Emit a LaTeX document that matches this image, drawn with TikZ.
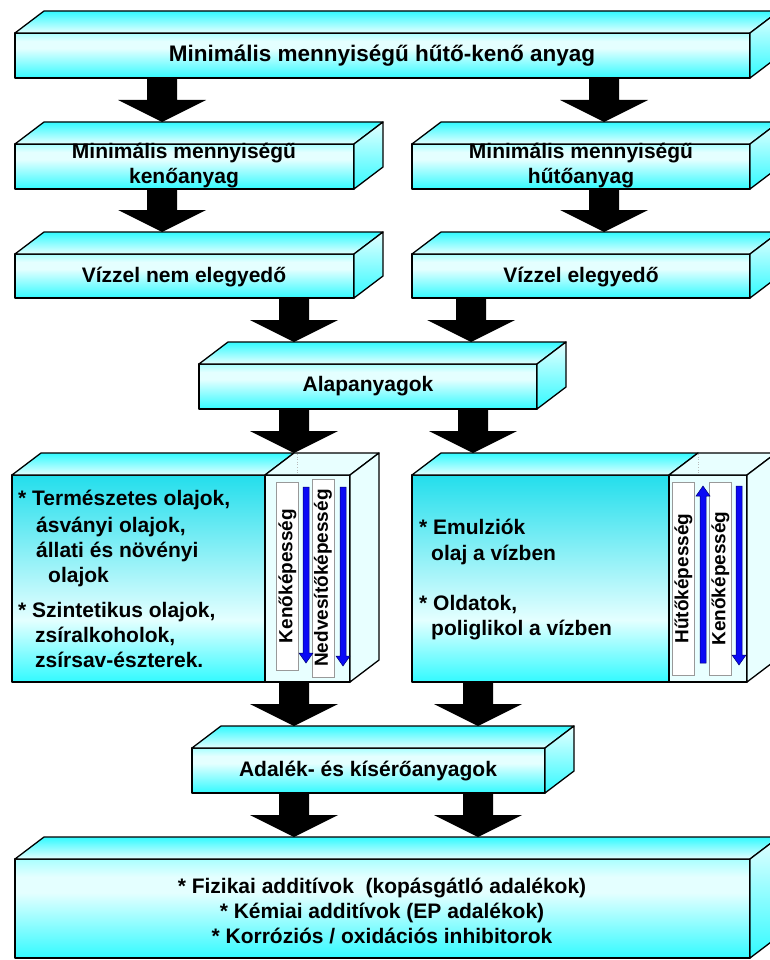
\documentclass[tikz,border=0pt]{standalone}
\usepackage{fontspec}
\setmainfont{Liberation Sans}
\definecolor{cyS}{RGB}{50,250,255}
\definecolor{cyL}{RGB}{228,255,255}
\definecolor{cyT}{RGB}{170,255,255}
\definecolor{cyD}{RGB}{35,222,236}
\definecolor{pale}{RGB}{232,255,255}
\definecolor{bluef}{RGB}{10,10,245}
\pgfdeclareverticalshading{smallfront}{100bp}{color(0bp)=(cyS); color(25bp)=(cyS); color(58bp)=(cyL); color(66bp)=(cyL); color(75bp)=(cyT); color(100bp)=(cyT)}
\pgfdeclareverticalshading{bigfront}{100bp}{color(0bp)=(cyS); color(25bp)=(cyS); color(40bp)=(cyL); color(75bp)=(cyD); color(100bp)=(cyD)}
\pgfdeclareverticalshading{topface}{100bp}{color(0bp)=(cyL); color(25bp)=(cyL); color(75bp)=(cyS); color(100bp)=(cyS)}
\pgfdeclareverticalshading{sideface}{100bp}{color(0bp)=(cyS); color(25bp)=(cyS); color(75bp)=(cyL); color(100bp)=(cyL)}
\tikzset{
  outl/.style={draw=black, line width=1.3pt, line join=round},
  frontsm/.style={rectangle, inner sep=0pt, outer sep=0pt, outl, shade, shading=smallfront},
  frontbig/.style={rectangle, inner sep=0pt, outer sep=0pt, outl, shade, shading=bigfront},
  scalezone/.style={rectangle, inner sep=0pt, outer sep=0pt, outl, fill=pale},
  topsh/.style={outl, shade, shading=topface},
  sidesh/.style={outl, shade, shading=sideface},
  palesh/.style={outl, fill=pale},
  lbl/.style={inner sep=0pt, font=\bfseries\fontsize{21}{25}\selectfont, align=center},
  body/.style={inner sep=0pt, anchor=base west, font=\bfseries\fontsize{21}{25}\selectfont},
  bar/.style={rectangle, draw=gray!80, line width=0.6pt, fill=white, inner sep=0pt, rotate=90, minimum height=22pt, font=\bfseries\fontsize{19}{22}\selectfont},
  fat/.style={fill=black},
  bluearr/.style={fill=bluef, draw=blue!45!black, line width=0.5pt},
  faint/.style={draw=gray!55, dotted, line width=0.6pt}
}
\newcommand\topface[2]{%
  \path[#2] (#1.north west) -- ++(29,-22) -- ([shift={(29,-22)}]#1.north east) -- (#1.north east) -- cycle;}
\newcommand\sideface[2]{%
  \path[#2] (#1.north east) -- ++(29,-22) -- ([shift={(29,-22)}]#1.south east) -- (#1.south east) -- cycle;}
\newcommand\fatarrow[3]{%
  \path (#1,0) coordinate (fax);
  \path (fax |- #2.south) coordinate (faS) (fax |- #3.north) coordinate (faT);
  \fill[fat] ([shift={(-15,0)}]faS) -- ([shift={(15,0)}]faS) -- ([shift={(15,-44)}]faT) -- ([shift={(44,-44)}]faT) -- ([shift={(0,-22)}]faT) -- ([shift={(-44,-44)}]faT) -- ([shift={(-15,-44)}]faT) -- cycle;}
\newcommand\bluearrow[3]{%
  \filldraw[bluearr] ([shift={(-3,0)}]#1) -- ([shift={(3,0)}]#1) -- ([shift={(3,{-10*(#3)})}]#2) -- ([shift={(7,{-10*(#3)})}]#2) -- (#2) -- ([shift={(-7,{-10*(#3)})}]#2) -- ([shift={(-3,{-10*(#3)})}]#2) -- cycle;}
\begin{document}
\begin{tikzpicture}[x=1pt, y=-1pt]
\useasboundingbox (0,0) rectangle (770,960);
\clip (0,0) rectangle (770,960);

% box 1
\node[frontsm, minimum width=735pt, minimum height=45pt] (b1) at (382.5,55.5) {};
\topface{b1}{topsh}\sideface{b1}{sidesh}
% box 2
\node[frontsm, minimum width=339pt, minimum height=45pt] (b2l) at (184.5,166.5) {};
\topface{b2l}{topsh}\sideface{b2l}{sidesh}
\node[frontsm, minimum width=338pt, minimum height=45pt] (b2r) at (581,166.5) {};
\topface{b2r}{topsh}\sideface{b2r}{sidesh}
% box 3
\node[frontsm, minimum width=339pt, minimum height=44pt] (b3l) at (184.5,276) {};
\topface{b3l}{topsh}\sideface{b3l}{sidesh}
\node[frontsm, minimum width=338pt, minimum height=44pt] (b3r) at (581,276) {};
\topface{b3r}{topsh}\sideface{b3r}{sidesh}
% box 4
\node[frontsm, minimum width=338pt, minimum height=45pt] (b4) at (368,386.5) {};
\topface{b4}{topsh}\sideface{b4}{sidesh}
% big left
\node[frontbig, minimum width=253pt, minimum height=207pt] (b5l) at (138.5,578.5) {};
\node[scalezone, minimum width=85pt, minimum height=207pt] (s5l) at (307.5,578.5) {};
\topface{b5l}{topsh}\topface{s5l}{palesh}\sideface{s5l}{palesh}
\draw[faint] (297,454) -- (297,474);
% big right
\node[frontbig, minimum width=257pt, minimum height=207pt] (b5r) at (540.5,578.5) {};
\node[scalezone, minimum width=78pt, minimum height=207pt] (s5r) at (708,578.5) {};
\topface{b5r}{topsh}\topface{s5r}{palesh}\sideface{s5r}{palesh}
\draw[faint] (698,454) -- (698,474);
% box 6
\node[frontsm, minimum width=353pt, minimum height=45pt] (b6) at (368.5,770.5) {};
\topface{b6}{topsh}\sideface{b6}{sidesh}
% box 7
\node[frontsm, minimum width=735pt, minimum height=99pt] (b7) at (382.5,908.5) {};
\topface{b7}{topsh}\sideface{b7}{sidesh}

% labels
\node[lbl, font=\bfseries\fontsize{22.5}{27}\selectfont] (t1) at (382,56) {Minimális mennyiségű hűtő-kenő anyag};
\node[lbl] (t2l) at (184,166) {Minimális mennyiségű\\kenőanyag};
\node[lbl] (t2r) at (581,166) {Minimális mennyiségű\\hűtőanyag};
\node[lbl] (t3l) at (184,277) {Vízzel nem elegyedő};
\node[lbl] (t3r) at (581,277) {Vízzel elegyedő};
\node[lbl] (t4) at (368,386) {Alapanyagok};
\node[lbl] (t6) at (368,771) {Adalék- és kísérőanyagok};
\node[lbl] (t7) at (382,911) {* Fizikai additívok\ \ (kopásgátló adalékok)\\* Kémiai additívok (EP adalékok)\\* Korróziós / oxidációs inhibitorok};

\node[body] (l1) at (18,505) {* Természetes olajok,};
\node[body] (l2) at (36,532) {ásványi olajok,};
\node[body] (l3) at (36,557) {állati és növényi};
\node[body] (l4) at (48,582) {olajok};
\node[body] (l5) at (18,617) {* Szintetikus olajok,};
\node[body] (l6) at (35,642) {zsíralkoholok,};
\node[body] (l7) at (35,667) {zsírsav-észterek.};
\node[body] (r1) at (419,534) {* Emulziók};
\node[body] (r2) at (431,560) {olaj a vízben};
\node[body] (r3) at (419,610) {* Oldatok,};
\node[body] (r4) at (431,635) {poliglikol a vízben};

% scale bars
\node[bar, minimum width=188pt] (k1) at (287.5,576) {Kenőképesség};
\node[bar, minimum width=198pt] (n1) at (323,578) {Nedvesítőképesség};
\node[bar, minimum width=193pt] (h2) at (683.5,578.5) {Hűtőképesség};
\node[bar, minimum width=193pt] (k2) at (720.5,578.5) {Kenőképesség};

\coordinate (a1s) at (306,487); \coordinate (a1e) at (306,663);
\coordinate (a2s) at (343,487); \coordinate (a2e) at (343,666);
\coordinate (a3s) at (703,663); \coordinate (a3e) at (703,486);
\coordinate (a4s) at (739,486); \coordinate (a4e) at (739,665);
\bluearrow{a1s}{a1e}{1}
\bluearrow{a2s}{a2e}{1}
\bluearrow{a3s}{a3e}{-1}
\bluearrow{a4s}{a4e}{1}

% block arrows
\fatarrow{162}{b1}{b2l}
\fatarrow{604}{b1}{b2r}
\fatarrow{162}{b2l}{b3l}
\fatarrow{604}{b2r}{b3r}
\fatarrow{294}{b3l}{b4}
\fatarrow{471}{b3r}{b4}
\fatarrow{294}{b4}{b5l}
\fatarrow{473}{b4}{b5r}
\fatarrow{294}{b5l}{b6}
\fatarrow{478}{b5r}{b6}
\fatarrow{294}{b6}{b7}
\fatarrow{478}{b6}{b7}
\end{tikzpicture}
\end{document}
